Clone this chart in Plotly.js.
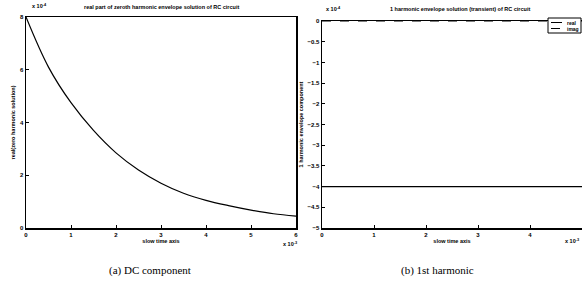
<!DOCTYPE html>
<html><head><meta charset="utf-8">
<script src="https://cdn.plot.ly/plotly-3.0.1.min.js"></script>
<style>body{margin:0;background:#fff}#c{width:582px;height:299px}</style>
</head><body><div id="c"></div>
<script>
// DC component (real part of zeroth harmonic), values in units of 1e-4, slow time in units of 1e-3
const dcTime = [0, 0.5, 1, 1.5, 2, 2.5, 3, 3.5, 4, 4.5, 5, 5.5, 6];
const dcValue = [8, 6.1, 4.75, 3.7, 2.85, 2.2, 1.7, 1.32, 1.05, 0.85, 0.68, 0.54, 0.45];
// 1st harmonic envelope (transient), units of 1e-4
const h1Time = [0, 1, 2, 3, 4, 5];
const h1Real = [-4, -4, -4, -4, -4, -4];
const h1Imag = [0, 0, 0, 0, 0, 0];
const seriesNames = ['real', 'imag'];
const leftYTicks = [0, 2, 4, 6, 8];
const leftXTicks = [0, 1, 2, 3, 4, 5, 6];
const rightYTicks = [0, -0.5, -1, -1.5, -2, -2.5, -3, -3.5, -4, -4.5, -5];
const rightXTicks = [0, 1, 2, 3, 4, 5];

const tickFont = {family: 'Liberation Sans, Arial', size: 6, color: '#000', weight: 'bold'};
const smallFont = {family: 'Liberation Sans, Arial', size: 5.5, color: '#000', weight: 'bold'};
const legFont = {family: 'Liberation Sans, Arial', size: 5, color: '#000', weight: 'bold'};
const ax = {
  showline: true, linecolor: '#000', linewidth: 1.5, mirror: true,
  ticks: 'inside', ticklen: 3, tickcolor: '#000', tickwidth: 1,
  showgrid: false, zeroline: false, tickfont: tickFont, fixedrange: true
};

const traces = [
  {x: dcTime, y: dcValue, type: 'scatter', mode: 'lines', line: {color: '#000', width: 1.2, shape: 'spline'},
   xaxis: 'x', yaxis: 'y', showlegend: false},
  {x: h1Time, y: h1Real, type: 'scatter', mode: 'lines', name: seriesNames[0], line: {color: '#000', width: 1.2},
   xaxis: 'x2', yaxis: 'y2', showlegend: false},
  {x: h1Time, y: h1Imag, type: 'scatter', mode: 'lines', name: seriesNames[1], line: {color: '#000', width: 1.2, dash: 'dash'},
   xaxis: 'x2', yaxis: 'y2', showlegend: false}
];

const P = (px) => px / 582, Q = (py) => 1 - py / 299;
const layout = {
  width: 582, height: 299,
  margin: {l: 0, r: 0, t: 0, b: 0},
  paper_bgcolor: '#fff', plot_bgcolor: '#fff',
  showlegend: false,
  xaxis: Object.assign({}, ax, {domain: [P(26), P(296)], range: [0, 6], tickvals: leftXTicks,
           title: {text: 'slow time axis', font: smallFont, standoff: 2}, anchor: 'y'}),
  yaxis: Object.assign({}, ax, {domain: [Q(228), Q(17)], range: [0, 8], tickvals: leftYTicks,
           title: {text: 'real(zero harmonic solution)', font: smallFont, standoff: 4}, anchor: 'x'}),
  xaxis2: Object.assign({}, ax, {domain: [P(322), 1], range: [0, 5], tickvals: rightXTicks,
           title: {text: 'slow time axis', font: smallFont, standoff: 2}, anchor: 'y2'}),
  yaxis2: Object.assign({}, ax, {domain: [Q(228), Q(21)], range: [-5, 0], tickvals: rightYTicks,
           title: {text: '1 harmonic envelope component', font: smallFont, standoff: 3}, anchor: 'x2'}),
  shapes: [
    {type: 'rect', xref: 'paper', yref: 'paper', x0: P(548), x1: P(581), y0: Q(33), y1: Q(18),
     line: {color: '#000', width: 1}, fillcolor: '#fff'},
    {type: 'line', xref: 'paper', yref: 'paper', x0: P(551), x1: P(562), y0: Q(22.5), y1: Q(22.5),
     line: {color: '#000', width: 1}},
    {type: 'line', xref: 'paper', yref: 'paper', x0: P(551), x1: P(562), y0: Q(28.5), y1: Q(28.5),
     line: {color: '#000', width: 1, dash: 'dash'}}
  ],
  annotations: [
    {text: 'real part of zeroth harmonic envelope solution of RC circuit', xref: 'paper', yref: 'paper',
     x: P(161), y: Q(7), showarrow: false, font: smallFont, xanchor: 'center', yanchor: 'middle'},
    {text: '1 harmonic envelope solution (transient) of RC circuit', xref: 'paper', yref: 'paper',
     x: P(460), y: Q(9), showarrow: false, font: smallFont, xanchor: 'center', yanchor: 'middle'},
    {text: 'x 10<sup>-4</sup>', xref: 'paper', yref: 'paper', x: P(30), y: Q(6), showarrow: false,
     font: smallFont, xanchor: 'left', yanchor: 'middle'},
    {text: 'x 10<sup>-3</sup>', xref: 'paper', yref: 'paper', x: P(290), y: Q(244), showarrow: false,
     font: smallFont, xanchor: 'center', yanchor: 'middle'},
    {text: 'x 10<sup>-4</sup>', xref: 'paper', yref: 'paper', x: P(324), y: Q(9), showarrow: false,
     font: smallFont, xanchor: 'left', yanchor: 'middle'},
    {text: 'x 10<sup>-3</sup>', xref: 'paper', yref: 'paper', x: P(581), y: Q(241), showarrow: false,
     font: smallFont, xanchor: 'right', yanchor: 'middle'},
    {text: seriesNames[0], xref: 'paper', yref: 'paper', x: P(565), y: Q(22.5), showarrow: false,
     font: legFont, xanchor: 'left', yanchor: 'middle'},
    {text: seriesNames[1], xref: 'paper', yref: 'paper', x: P(565), y: Q(28.5), showarrow: false,
     font: legFont, xanchor: 'left', yanchor: 'middle'},
    {text: '(a) DC component', xref: 'paper', yref: 'paper', x: P(150), y: Q(270), showarrow: false,
     font: {family: 'Liberation Serif, Times New Roman', size: 11, color: '#000'}, xanchor: 'center', yanchor: 'middle'},
    {text: '(b) 1st harmonic', xref: 'paper', yref: 'paper', x: P(437), y: Q(270), showarrow: false,
     font: {family: 'Liberation Serif, Times New Roman', size: 11, color: '#000'}, xanchor: 'center', yanchor: 'middle'}
  ]
};
Plotly.newPlot('c', traces, layout, {displayModeBar: false, staticPlot: true});
</script></body></html>
